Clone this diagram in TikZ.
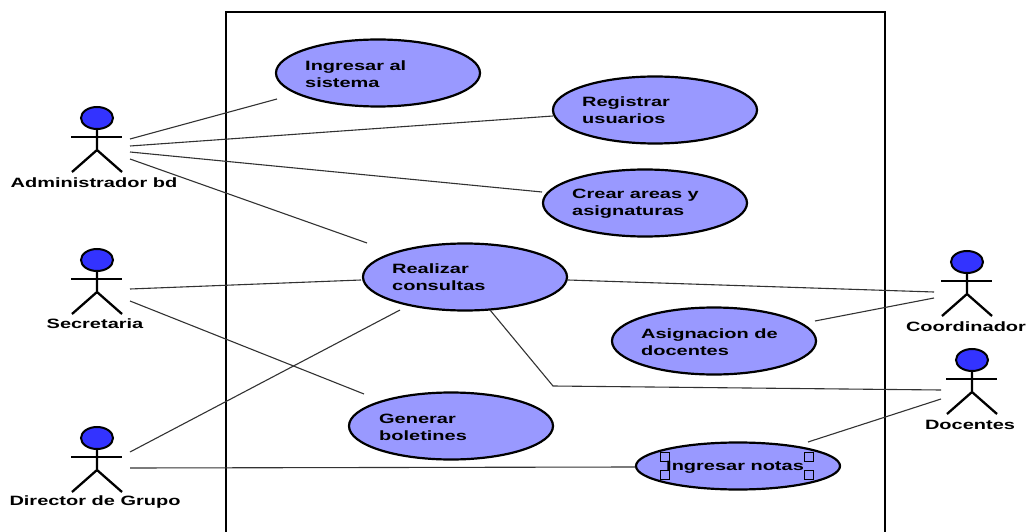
\documentclass[tikz,border=0pt]{standalone}
\usepackage{fontspec}
\setmainfont{Liberation Sans}
\newfontfamily\umlfont[FakeStretch=1.48]{Liberation Sans}
\usetikzlibrary{shapes.geometric}
\definecolor{ucfill}{RGB}{153,153,255}
\definecolor{headblue}{RGB}{51,51,255}
\definecolor{linkgray}{RGB}{50,50,50}
\tikzset{
  usecase/.style={ellipse,draw=black,fill=ucfill,line width=2.2pt,minimum width=204pt,minimum height=67pt,inner sep=0pt},
  uctext/.style={align=left,anchor=west,inner sep=0pt,font=\umlfont\bfseries\fontsize{13.5}{17}\selectfont},
  actorlabel/.style={inner sep=0pt,font=\umlfont\bfseries\fontsize{13.5}{17}\selectfont},
  head/.style={ellipse,draw=black,fill=headblue,line width=2pt,minimum width=32pt,minimum height=22pt,inner sep=0pt},
  stick/.style={draw=black,line width=2.3pt},
  link/.style={draw=linkgray,line width=1.1pt},
  handle/.style={draw=black,fill=ucfill,line width=0.9pt,minimum size=9pt,inner sep=0pt,rectangle},
  frame/.style={draw=black,line width=1.3pt}
}
% actor: name, head x, head y
\newcommand{\umlactor}[3]{%
  \draw[stick] (#2,#3) -- ++(0,32) coordinate (#1hip) -- ++(-25,22);
  \draw[stick] (#1hip) -- ++(25,22);
  \draw[stick] (#2,#3) ++(-26,19) -- ++(51,0);
  \node[head] (#1) at (#2,#3) {};
}
\begin{document}
\begin{tikzpicture}[x=1pt,y=-1pt]
\useasboundingbox (0,0) rectangle (1026,532);
\draw[frame] (226,532) -- (226,12) -- (885,12) -- (885,532);

\node[usecase] (uing) at (378,73) {};
\node[usecase] (ureg) at (655,110) {};
\node[usecase] (ucre) at (645,203) {};
\node[usecase] (urea) at (465,277) {};
\node[usecase] (uasi) at (714,341) {};
\node[usecase] (ugen) at (451,426) {};
\node[usecase,minimum height=47pt] (unot) at (738,466) {};

\node[handle] (h1) at (665,457) {};
\node[handle] (h2) at (809,457) {};
\node[handle] (h3) at (665,475) {};
\node[handle] (h4) at (809,475) {};

\node[uctext] at (305,74) {Ingresar al\\sistema};
\node[uctext] at (582,110) {Registrar\\usuarios};
\node[uctext] at (572,203.5) {Crear areas y\\asignaturas};
\node[uctext] at (392,277) {Realizar\\consultas};
\node[uctext] at (641,342.5) {Asignacion de\\docentes};
\node[uctext] at (379,427) {Generar\\boletines};
\node[uctext] at (666,467) {Ingresar notas};

\umlactor{aadm}{97}{118}
\umlactor{asec}{97}{260}
\umlactor{adir}{97}{438}
\umlactor{acoo}{967}{262}
\umlactor{adoc}{972}{360}

\node[actorlabel] at (94,183) {Administrador bd};
\node[actorlabel] at (95,324) {Secretaria};
\node[actorlabel] at (95,502) {Director de Grupo};
\node[actorlabel] at (966,327) {Coordinador};
\node[actorlabel] at (970,425) {Docentes};

\coordinate (a1) at (130,139); \coordinate (e1) at (277,99);
\coordinate (a2) at (130,146); \coordinate (e2) at (553,116);
\coordinate (a3) at (130,152); \coordinate (e3) at (542,192);
\coordinate (a4) at (130,159); \coordinate (e4) at (367,243);
\coordinate (s1) at (130,289); \coordinate (e5) at (361,280);
\coordinate (s2) at (130,301); \coordinate (e6) at (364,394);
\coordinate (d1) at (130,452); \coordinate (e7) at (400,310);
\coordinate (d2) at (130,468); \coordinate (e8) at (635,467);
\coordinate (c1) at (934,292); \coordinate (e9) at (568,280);
\coordinate (c2) at (934,298); \coordinate (e10) at (815,321);
\coordinate (o1) at (941,390); \coordinate (e11) at (490,310); \coordinate (bend) at (553,386);
\coordinate (o2) at (941,399); \coordinate (e12) at (808,442);

\draw[link] (a1) -- (e1);
\draw[link] (a2) -- (e2);
\draw[link] (a3) -- (e3);
\draw[link] (a4) -- (e4);
\draw[link] (s1) -- (e5);
\draw[link] (s2) -- (e6);
\draw[link] (d1) -- (e7);
\draw[link] (d2) -- (e8);
\draw[link] (c1) -- (e9);
\draw[link] (c2) -- (e10);
\draw[link] (e11) -- (bend) -- (o1);
\draw[link] (o2) -- (e12);
\end{tikzpicture}
\end{document}
